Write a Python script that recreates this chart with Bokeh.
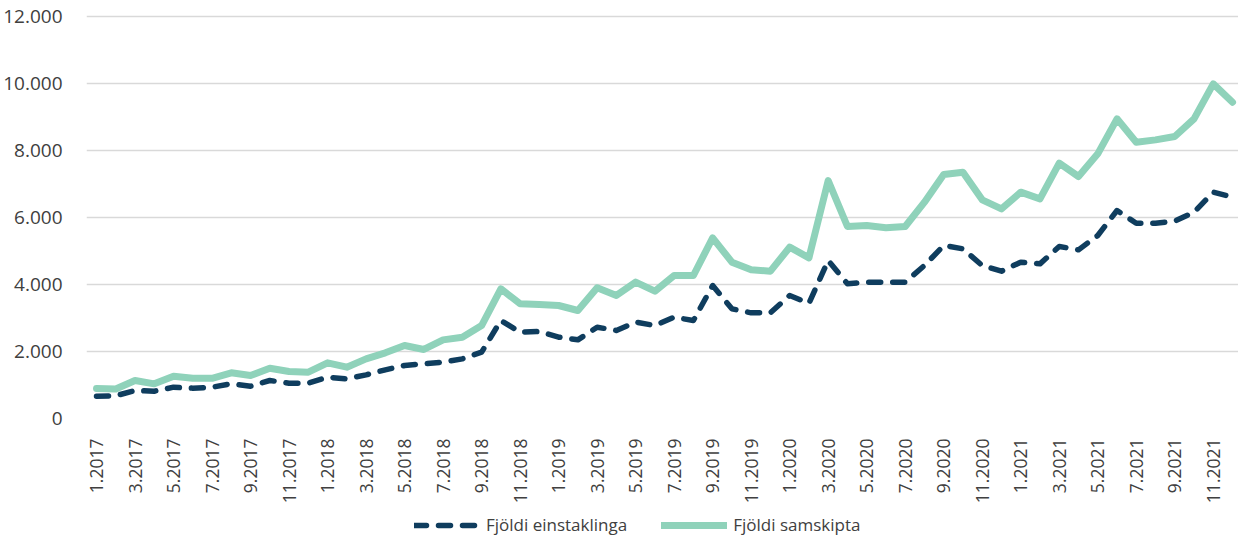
from bokeh.plotting import figure
from bokeh.layouts import column
from bokeh.models import FixedTicker, Legend, LegendItem
from bokeh.embed import file_html
from bokeh.resources import INLINE
import math

months = [f"{m}.{y}" for y in range(2017, 2022) for m in range(1, 13)]

einstaklinga = [665, 680, 836, 815, 935, 905, 935, 1035, 965, 1134,
                1054, 1054, 1233, 1184, 1303, 1453, 1582, 1632, 1682, 1781,
                1980, 2925, 2577, 2597, 2428, 2348, 2726, 2627, 2876, 2776,
                3025, 2925, 3970, 3274, 3154, 3154, 3672, 3440, 4716, 4020,
                4070, 4070, 4070, 4567, 5164, 5065, 4567, 4398, 4667, 4617,
                5134, 5035, 5463, 6209, 5830, 5830, 5890, 6159, 6756, 6607]

samskipta = [895, 880, 1134, 1035, 1263, 1203, 1200, 1364, 1283, 1502,
             1403, 1383, 1662, 1532, 1781, 1961, 2179, 2060, 2348, 2428,
             2776, 3871, 3423, 3403, 3373, 3224, 3900, 3672, 4070, 3801,
             4269, 4269, 5393, 4667, 4438, 4398, 5114, 4796, 7104, 5731,
             5761, 5692, 5731, 6458, 7284, 7353, 6527, 6259, 6756, 6557,
             7622, 7224, 7900, 8945, 8249, 8318, 8418, 8945, 9990, 9443]

series_names = ["Fjöldi einstaklinga", "Fjöldi samskipta"]

y_ticks = [0, 2000, 4000, 6000, 8000, 10000, 12000]
y_labels = ["0", "2.000", "4.000", "6.000", "8.000", "10.000", "12.000"]

x = list(range(len(months)))

DARK = "#0f3d5e"
GREEN = "#8fd2ba"
TEXT = "#404040"
FONT = "Open Sans"

dark_style = dict(line_color=DARK, line_width=5.5, line_dash="12 12",
                  line_join="round", line_cap="round")
green_style = dict(line_color=GREEN, line_width=7,
                   line_join="round", line_cap="round")

p = figure(width=1238, height=506, x_range=(-0.52, 59.31), y_range=(0, 12060),
           output_backend="svg", toolbar_location=None,
           min_border_left=80, min_border_right=0, min_border_top=14,
           min_border_bottom=88)
p.outline_line_color = None
p.background_fill_color = "white"
p.border_fill_color = "white"

p.line(x, samskipta, **green_style)
p.line(x, einstaklinga, **dark_style)

p.xgrid.grid_line_color = None
p.ygrid.grid_line_color = "#d9d9d9"
p.ygrid.grid_line_width = 1.5

p.yaxis.ticker = FixedTicker(ticks=y_ticks)
p.yaxis.major_label_overrides = {t: l for t, l in zip(y_ticks, y_labels)}
p.xaxis.ticker = FixedTicker(ticks=x[::2])
p.xaxis.major_label_overrides = {i: months[i] for i in x[::2]}
p.xaxis.major_label_orientation = math.pi / 2

for ax in (p.xaxis[0], p.yaxis[0]):
    ax.axis_line_color = None
    ax.major_tick_line_color = None
    ax.minor_tick_line_color = None
    ax.major_label_text_color = TEXT
    ax.major_label_text_font = FONT
p.xaxis.major_label_text_font_size = "17.5px"
p.yaxis.major_label_text_font_size = "19px"
p.yaxis.major_label_standoff = 18
p.xaxis.major_label_standoff = 14

# legend strip: a small figure whose (off-screen) lines only serve the legend
q = figure(width=1238, height=30, x_range=(0, 1), y_range=(-2, -1),
           output_backend="svg", toolbar_location=None,
           x_axis_type=None, y_axis_type=None,
           min_border_left=0, min_border_right=0, min_border_top=0,
           min_border_bottom=0)
q.outline_line_color = None
q.xgrid.grid_line_color = None
q.ygrid.grid_line_color = None
l_dark = q.line(x, einstaklinga, **dark_style)
l_green = q.line(x, samskipta, **green_style)

legend = Legend(items=[LegendItem(label=series_names[0], renderers=[l_dark]),
                       LegendItem(label=series_names[1], renderers=[l_green])],
                orientation="horizontal", location=(328, 0),
                glyph_width=66, glyph_height=22, label_height=22,
                label_text_font_size="17px", label_text_font=FONT,
                label_text_color=TEXT, label_standoff=6, spacing=34,
                padding=0, margin=0, border_line_color=None,
                background_fill_alpha=0)
q.add_layout(legend)

open("out.html", "w").write(file_html(column(p, q, spacing=0), INLINE))
